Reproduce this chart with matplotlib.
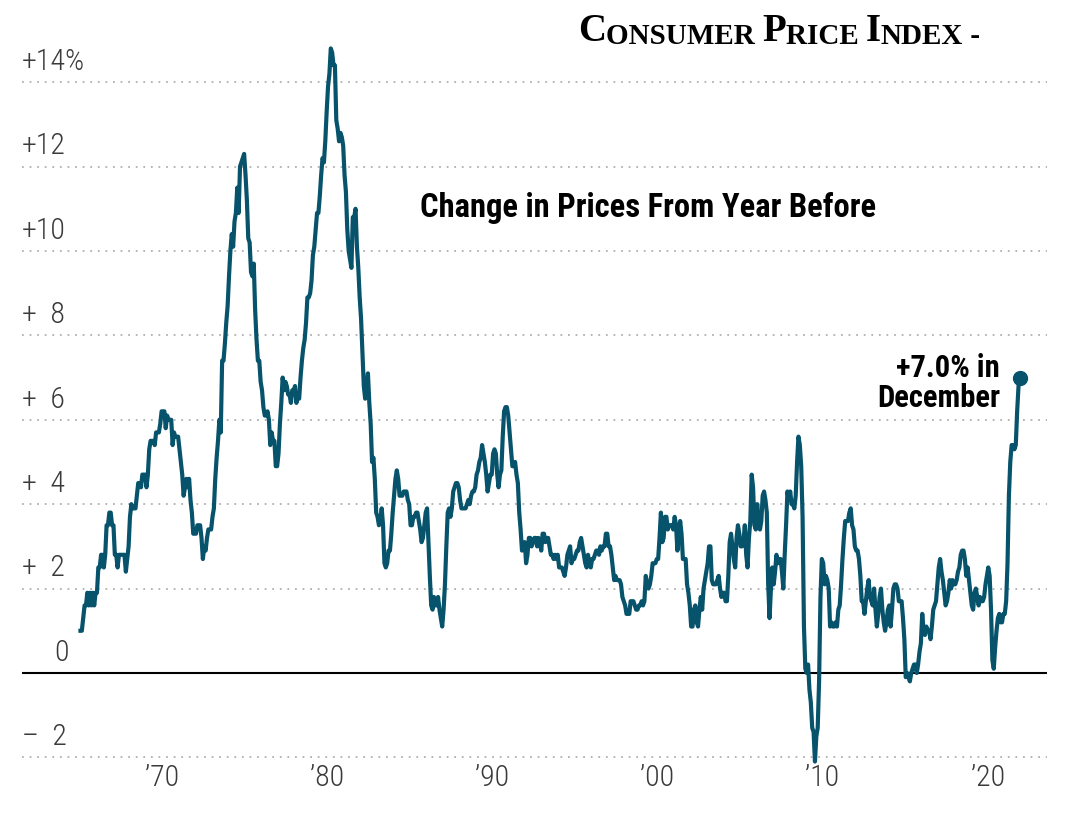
import numpy as np
import matplotlib.pyplot as plt
from matplotlib import font_manager

# CPI-U, change from a year earlier (%), monthly, Jan 1965 - Dec 2021
cpi_1960s = [
    1.0, 1.0, 1.3, 1.6, 1.6, 1.9, 1.6, 1.9, 1.6, 1.9, 1.6, 1.9,
    1.9, 2.5, 2.5, 2.8, 2.8, 2.5, 2.8, 3.5, 3.5, 3.8, 3.8, 3.5,
    3.5, 2.8, 2.8, 2.5, 2.8, 2.8, 2.8, 2.8, 2.8, 2.4, 2.7, 3.0,
    3.7, 4.0, 3.9, 3.9, 3.9, 4.2, 4.5, 4.5, 4.4, 4.7, 4.7, 4.7,
    4.4, 4.7, 5.3, 5.5, 5.5, 5.5, 5.4, 5.7, 5.7, 5.7, 5.9, 6.2,
]
cpi_1970s = [
    6.2, 6.2, 5.8, 6.1, 6.0, 6.0, 6.0, 5.4, 5.7, 5.6, 5.6, 5.6,
    5.3, 5.0, 4.7, 4.2, 4.4, 4.6, 4.4, 4.6, 4.1, 3.8, 3.3, 3.3,
    3.3, 3.5, 3.5, 3.5, 3.2, 2.7, 3.0, 2.9, 3.2, 3.4, 3.4, 3.4,
    3.7, 3.9, 4.6, 5.1, 5.5, 6.0, 5.7, 7.4, 7.4, 7.8, 8.3, 8.7,
    9.4, 10.0, 10.4, 10.1, 10.7, 10.9, 11.5, 10.9, 12.0, 12.1, 12.2, 12.3,
    11.8, 11.2, 10.3, 10.2, 9.5, 9.4, 9.7, 8.6, 7.9, 7.4, 7.4, 6.9,
    6.7, 6.3, 6.1, 6.1, 6.2, 6.0, 5.4, 5.7, 5.5, 5.5, 4.9, 4.9,
    5.2, 5.9, 6.4, 7.0, 6.7, 6.9, 6.8, 6.6, 6.6, 6.4, 6.7, 6.7,
    6.8, 6.4, 6.6, 6.5, 7.0, 7.4, 7.7, 7.9, 8.3, 8.9, 8.9, 9.0,
    9.3, 9.9, 10.1, 10.5, 10.9, 10.9, 11.3, 11.8, 12.2, 12.1, 12.6, 13.3,
]
cpi_1980s = [
    13.9, 14.2, 14.8, 14.7, 14.4, 14.4, 13.1, 12.9, 12.6, 12.8, 12.7, 12.5,
    11.8, 11.4, 10.5, 10.0, 9.8, 9.6, 10.8, 10.8, 11.0, 10.1, 9.6, 8.9,
    8.4, 7.6, 6.8, 6.5, 6.7, 7.1, 6.4, 5.9, 5.0, 5.1, 4.6, 3.8,
    3.7, 3.5, 3.6, 3.9, 3.5, 2.6, 2.5, 2.6, 2.9, 2.9, 3.3, 3.8,
    4.2, 4.6, 4.8, 4.6, 4.2, 4.2, 4.2, 4.3, 4.3, 4.3, 4.1, 4.0,
    3.5, 3.5, 3.7, 3.7, 3.8, 3.8, 3.6, 3.4, 3.1, 3.2, 3.5, 3.8,
    3.9, 3.1, 2.3, 1.6, 1.5, 1.8, 1.6, 1.6, 1.8, 1.5, 1.3, 1.1,
    1.5, 2.1, 3.0, 3.8, 3.9, 3.7, 3.9, 4.3, 4.4, 4.5, 4.5, 4.4,
    4.1, 3.9, 3.9, 3.9, 3.9, 4.0, 4.1, 4.0, 4.2, 4.3, 4.3, 4.4,
    4.7, 4.8, 5.0, 5.1, 5.4, 5.2, 5.0, 4.7, 4.3, 4.5, 4.7, 4.7,
]
cpi_1990s = [
    5.2, 5.3, 5.2, 4.7, 4.4, 4.7, 4.8, 5.6, 6.2, 6.3, 6.3, 6.1,
    5.7, 5.3, 4.9, 4.9, 5.0, 4.7, 4.5, 3.8, 3.4, 2.9, 3.0, 3.1,
    2.6, 2.8, 3.2, 3.2, 3.0, 3.1, 3.2, 3.2, 3.0, 3.2, 3.1, 2.9,
    3.3, 3.3, 3.1, 3.2, 3.2, 3.0, 2.8, 2.8, 2.7, 2.8, 2.7, 2.8,
    2.5, 2.5, 2.5, 2.4, 2.3, 2.5, 2.8, 2.9, 3.0, 2.6, 2.7, 2.7,
    2.8, 2.9, 2.9, 3.1, 3.2, 3.0, 2.8, 2.6, 2.5, 2.8, 2.6, 2.5,
    2.7, 2.7, 2.8, 2.9, 2.9, 2.8, 3.0, 2.9, 3.0, 3.0, 3.3, 3.3,
    3.0, 3.0, 2.8, 2.5, 2.2, 2.3, 2.2, 2.2, 2.2, 2.1, 1.8, 1.7,
    1.6, 1.4, 1.4, 1.4, 1.7, 1.7, 1.7, 1.6, 1.5, 1.5, 1.6, 1.6,
    1.7, 1.6, 1.7, 2.3, 2.1, 2.0, 2.1, 2.3, 2.6, 2.6, 2.6, 2.7,
]
cpi_2000s = [
    2.7, 3.2, 3.8, 3.1, 3.2, 3.7, 3.7, 3.4, 3.5, 3.5, 3.5, 3.4,
    3.7, 3.5, 2.9, 3.3, 3.6, 3.3, 2.7, 2.7, 2.7, 2.1, 1.9, 1.6,
    1.1, 1.1, 1.5, 1.6, 1.2, 1.1, 1.5, 1.8, 1.5, 2.0, 2.2, 2.4,
    2.6, 3.0, 3.0, 2.2, 2.1, 2.1, 2.1, 2.2, 2.3, 2.0, 1.8, 1.9,
    1.9, 1.7, 1.7, 2.3, 3.1, 3.3, 3.0, 2.7, 2.5, 3.2, 3.5, 3.3,
    3.0, 3.0, 3.1, 3.5, 2.8, 2.5, 3.2, 3.6, 4.7, 4.4, 3.5, 3.4,
    4.0, 3.6, 3.4, 3.6, 4.2, 4.3, 4.1, 3.8, 2.1, 1.3, 2.0, 2.5,
    2.1, 2.4, 2.8, 2.6, 2.7, 2.7, 2.4, 2.0, 2.8, 3.5, 4.3, 4.1,
    4.3, 4.0, 4.0, 3.9, 4.2, 5.0, 5.6, 5.4, 4.9, 3.7, 1.1, 0.1,
    0.0, 0.2, -0.4, -0.7, -1.3, -1.4, -2.1, -1.5, -1.3, -0.2, 1.8, 2.7,
]
cpi_2010s = [
    2.6, 2.1, 2.3, 2.2, 2.0, 1.1, 1.2, 1.1, 1.1, 1.2, 1.1, 1.5,
    1.6, 2.1, 2.7, 3.2, 3.6, 3.6, 3.6, 3.8, 3.9, 3.5, 3.4, 3.0,
    2.9, 2.9, 2.7, 2.3, 1.7, 1.7, 1.4, 1.7, 2.0, 2.2, 1.8, 1.7,
    1.6, 2.0, 1.5, 1.1, 1.4, 1.8, 2.0, 1.5, 1.2, 1.0, 1.2, 1.5,
    1.6, 1.1, 1.5, 2.0, 2.1, 2.1, 2.0, 1.7, 1.7, 1.7, 1.3, 0.8,
    -0.1, 0.0, -0.1, -0.2, 0.0, 0.1, 0.2, 0.2, 0.0, 0.2, 0.5, 0.7,
    1.4, 1.0, 0.9, 1.1, 1.0, 1.0, 0.8, 1.1, 1.5, 1.6, 1.7, 2.1,
    2.5, 2.7, 2.4, 2.2, 1.9, 1.6, 1.7, 1.9, 2.2, 2.0, 2.2, 2.1,
    2.1, 2.2, 2.4, 2.5, 2.8, 2.9, 2.9, 2.7, 2.3, 2.5, 2.2, 1.9,
    1.6, 1.5, 1.9, 2.0, 1.8, 1.6, 1.8, 1.7, 1.7, 1.8, 2.1, 2.3,
]
cpi_2020s = [
    2.5, 2.3, 1.5, 0.3, 0.1, 0.6, 1.0, 1.3, 1.4, 1.2, 1.2, 1.4,
    1.4, 1.7, 2.6, 4.2, 5.0, 5.4, 5.4, 5.3, 5.4, 6.2, 6.8, 7.0,
]

start_year = 1965
yticks = [-2, 0, 2, 4, 6, 8, 10, 12, 14]
ytick_labels = ['\u2013  2', '0', '+  2', '+  4', '+  6', '+  8', '+10', '+12', '+14%']
xticks = [1970, 1980, 1990, 2000, 2010, 2020]
xtick_labels = ['\u201970', '\u201980', '\u201990', '\u201900', '\u201910', '\u201920']

values = np.array(cpi_1960s + cpi_1970s + cpi_1980s + cpi_1990s
                  + cpi_2000s + cpi_2010s + cpi_2020s)
dates = start_year + np.arange(len(values)) / 12 + 1 / 24

installed = {f.name for f in font_manager.fontManager.ttflist}
narrow = [f for f in ['Liberation Sans Narrow', 'Roboto Condensed', 'Roboto']
          if f in installed] + ['DejaVu Sans']

line_color = '#07536c'

fig = plt.figure(figsize=(10.9, 8.2), dpi=100)
ax = fig.add_axes([22 / 1090, 0.0649, (1047 - 22) / 1090, 0.8954])
ax.set_xlim(1961.5, 2023.6)
ax.set_ylim(-2.2, 15.2)
ax.axis('off')

# gridlines
for t in yticks:
    if t == 0:
        ax.axhline(0, color='black', lw=1.5, zorder=2)
    else:
        ax.axhline(t, color='#b0b0b0', lw=1.3, ls=(0, (1, 3.2)), zorder=1)

for t, lab in zip(yticks, ytick_labels):
    x = 1961.5 + (1.95 if t == 0 else 0.0)
    ax.text(x, t + 0.17, lab, ha='left', va='bottom', fontsize=21.5,
            color='#3a3a3a', family=narrow, fontweight='light')

for t, lab in zip(xticks, xtick_labels):
    ax.text(t, -2.47, lab, ha='center', va='center', fontsize=21.5,
            color='#3a3a3a', family=narrow, fontweight='light')

ax.plot(dates, values, color=line_color, lw=3, solid_joinstyle='round', zorder=3)
ax.plot(dates[-1], values[-1], 'o', color=line_color, ms=10, zorder=4)

ax.text(2020.75, 6.9, '+7.0% in\nDecember', ha='right', va='center',
        fontsize=22, fontweight='bold', family=narrow, linespacing=1.0)
ax.text(1999.45, 11.05, 'Change in Prices From Year Before', ha='center',
        va='center', fontsize=23.5, fontweight='bold', family=narrow)

# small-caps title
serif = ['Liberation Serif', 'DejaVu Serif']
pieces = [('C', 28), ('ONSUMER ', 21), ('P', 28), ('RICE ', 21),
          ('I', 28), ('NDEX', 21), (' -', 21)]
prev = fig.text(578 / 1090, 1 - 41 / 820, pieces[0][0], fontsize=pieces[0][1],
                fontweight='bold', family=serif, va='baseline')
for txt, size in pieces[1:]:
    prev = ax.annotate(txt, xy=(1, 0), xycoords=prev, fontsize=size,
                       fontweight='bold', family=serif, va='bottom',
                       annotation_clip=False)

fig.savefig('out.png', dpi=100)
